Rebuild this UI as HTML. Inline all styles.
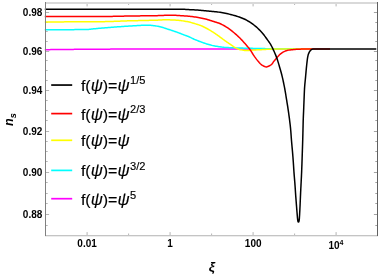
<!DOCTYPE html>
<html><head><meta charset="utf-8"><title>plot</title>
<style>
html,body{margin:0;padding:0;background:#fff;}
body{width:382px;height:275px;overflow:hidden;font-family:"Liberation Sans",sans-serif;}
svg{display:block;will-change:transform;}
svg text{font-family:"Liberation Sans",sans-serif;}
</style></head><body>
<svg width="382" height="275" viewBox="0 0 382 275">
<rect width="382" height="275" fill="#fff"/>
<g stroke="#adadad" stroke-width="0.9" fill="none">
<line x1="45.5" y1="225.50" x2="47.70" y2="225.50"/>
<line x1="377.5" y1="225.50" x2="375.30" y2="225.50" stroke="#999"/>
<line x1="45.5" y1="214.50" x2="49.10" y2="214.50"/>
<line x1="377.5" y1="214.50" x2="373.90" y2="214.50" stroke="#999"/>
<line x1="45.5" y1="203.50" x2="47.70" y2="203.50"/>
<line x1="377.5" y1="203.50" x2="375.30" y2="203.50" stroke="#999"/>
<line x1="45.5" y1="193.50" x2="47.70" y2="193.50"/>
<line x1="377.5" y1="193.50" x2="375.30" y2="193.50" stroke="#999"/>
<line x1="45.5" y1="182.50" x2="47.70" y2="182.50"/>
<line x1="377.5" y1="182.50" x2="375.30" y2="182.50" stroke="#999"/>
<line x1="45.5" y1="172.50" x2="49.10" y2="172.50"/>
<line x1="377.5" y1="172.50" x2="373.90" y2="172.50" stroke="#999"/>
<line x1="45.5" y1="161.50" x2="47.70" y2="161.50"/>
<line x1="377.5" y1="161.50" x2="375.30" y2="161.50" stroke="#999"/>
<line x1="45.5" y1="151.50" x2="47.70" y2="151.50"/>
<line x1="377.5" y1="151.50" x2="375.30" y2="151.50" stroke="#999"/>
<line x1="45.5" y1="141.50" x2="47.70" y2="141.50"/>
<line x1="377.5" y1="141.50" x2="375.30" y2="141.50" stroke="#999"/>
<line x1="45.5" y1="131.50" x2="49.10" y2="131.50"/>
<line x1="377.5" y1="131.50" x2="373.90" y2="131.50" stroke="#999"/>
<line x1="45.5" y1="120.50" x2="47.70" y2="120.50"/>
<line x1="377.5" y1="120.50" x2="375.30" y2="120.50" stroke="#999"/>
<line x1="45.5" y1="110.50" x2="47.70" y2="110.50"/>
<line x1="377.5" y1="110.50" x2="375.30" y2="110.50" stroke="#999"/>
<line x1="45.5" y1="100.50" x2="47.70" y2="100.50"/>
<line x1="377.5" y1="100.50" x2="375.30" y2="100.50" stroke="#999"/>
<line x1="45.5" y1="90.50" x2="49.10" y2="90.50"/>
<line x1="377.5" y1="90.50" x2="373.90" y2="90.50" stroke="#999"/>
<line x1="45.5" y1="80.50" x2="47.70" y2="80.50"/>
<line x1="377.5" y1="80.50" x2="375.30" y2="80.50" stroke="#999"/>
<line x1="45.5" y1="70.50" x2="47.70" y2="70.50"/>
<line x1="377.5" y1="70.50" x2="375.30" y2="70.50" stroke="#999"/>
<line x1="45.5" y1="60.50" x2="47.70" y2="60.50"/>
<line x1="377.5" y1="60.50" x2="375.30" y2="60.50" stroke="#999"/>
<line x1="45.5" y1="51.50" x2="49.10" y2="51.50"/>
<line x1="377.5" y1="51.50" x2="373.90" y2="51.50" stroke="#999"/>
<line x1="45.5" y1="41.50" x2="47.70" y2="41.50"/>
<line x1="377.5" y1="41.50" x2="375.30" y2="41.50" stroke="#999"/>
<line x1="45.5" y1="31.50" x2="47.70" y2="31.50"/>
<line x1="377.5" y1="31.50" x2="375.30" y2="31.50" stroke="#999"/>
<line x1="45.5" y1="22.50" x2="47.70" y2="22.50"/>
<line x1="377.5" y1="22.50" x2="375.30" y2="22.50" stroke="#999"/>
<line x1="45.5" y1="12.50" x2="49.10" y2="12.50"/>
<line x1="377.5" y1="12.50" x2="373.90" y2="12.50" stroke="#999"/>
<line x1="87.10" y1="235.5" x2="87.10" y2="232.10"/>
<line x1="87.10" y1="3" x2="87.10" y2="6.40"/>
<line x1="128.60" y1="235.5" x2="128.60" y2="233.50"/>
<line x1="128.60" y1="3" x2="128.60" y2="5.00"/>
<line x1="170.10" y1="235.5" x2="170.10" y2="232.10"/>
<line x1="170.10" y1="3" x2="170.10" y2="6.40"/>
<line x1="211.60" y1="235.5" x2="211.60" y2="233.50"/>
<line x1="211.60" y1="3" x2="211.60" y2="5.00"/>
<line x1="253.10" y1="235.5" x2="253.10" y2="232.10"/>
<line x1="253.10" y1="3" x2="253.10" y2="6.40"/>
<line x1="294.60" y1="235.5" x2="294.60" y2="233.50"/>
<line x1="294.60" y1="3" x2="294.60" y2="5.00"/>
<line x1="336.10" y1="235.5" x2="336.10" y2="232.10"/>
<line x1="336.10" y1="3" x2="336.10" y2="6.40"/>
</g>
<g clip-path="none">
<path d="M44.80,49.70 L45.78,49.69 L46.77,49.67 L47.75,49.66 L48.74,49.64 L49.72,49.63 L50.71,49.61 L51.69,49.60 L52.68,49.59 L53.66,49.57 L54.65,49.56 L55.63,49.55 L56.62,49.54 L57.60,49.53 L58.59,49.51 L59.57,49.50 L60.55,49.49 L61.54,49.48 L62.52,49.48 L63.51,49.47 L64.49,49.46 L65.48,49.45 L66.46,49.44 L67.45,49.43 L68.43,49.42 L69.42,49.41 L70.40,49.41 L71.39,49.40 L72.37,49.39 L73.36,49.38 L74.34,49.37 L75.33,49.37 L76.31,49.36 L77.29,49.35 L78.28,49.35 L79.26,49.34 L80.25,49.33 L81.23,49.32 L82.22,49.32 L83.20,49.31 L84.19,49.30 L85.17,49.30 L86.16,49.29 L87.14,49.28 L88.13,49.28 L89.11,49.27 L90.10,49.26 L91.08,49.26 L92.07,49.25 L93.05,49.24 L94.04,49.24 L95.02,49.23 L96.00,49.23 L96.99,49.22 L97.97,49.21 L98.96,49.21 L99.94,49.20 L100.93,49.19 L101.91,49.19 L102.90,49.18 L103.88,49.17 L104.87,49.17 L105.85,49.16 L106.84,49.15 L107.82,49.15 L108.81,49.14 L109.79,49.13 L110.78,49.12 L111.76,49.12 L112.75,49.11 L113.73,49.10 L114.71,49.10 L115.70,49.09 L116.68,49.08 L117.67,49.08 L118.65,49.07 L119.64,49.06 L120.62,49.05 L121.61,49.05 L122.59,49.04 L123.58,49.04 L124.56,49.03 L125.55,49.02 L126.53,49.02 L127.52,49.01 L128.50,49.01 L129.49,49.00 L130.47,49.00 L131.46,48.99 L132.44,48.99 L133.42,48.98 L134.41,48.98 L135.39,48.97 L136.38,48.97 L137.36,48.97 L138.35,48.96 L139.33,48.96 L140.32,48.96 L141.30,48.95 L142.29,48.95 L143.27,48.95 L144.26,48.95 L145.24,48.95 L146.23,48.95 L147.21,48.95 L148.20,48.95 L149.18,48.94 L150.17,48.94 L151.15,48.94 L152.13,48.94 L153.12,48.94 L154.10,48.94 L155.09,48.94 L156.07,48.94 L157.06,48.94 L158.04,48.94 L159.03,48.93 L160.01,48.93 L161.00,48.93 L161.98,48.93 L162.97,48.93 L163.95,48.93 L164.94,48.93 L165.92,48.93 L166.91,48.93 L167.89,48.93 L168.88,48.93 L169.86,48.92 L170.84,48.92 L171.83,48.92 L172.81,48.92 L173.80,48.92 L174.78,48.92 L175.77,48.92 L176.75,48.92 L177.74,48.92 L178.72,48.92 L179.71,48.92 L180.69,48.92 L181.68,48.92 L182.66,48.92 L183.65,48.91 L184.63,48.91 L185.62,48.91 L186.60,48.91 L187.59,48.91 L188.57,48.91 L189.56,48.91 L190.54,48.91 L191.52,48.91 L192.51,48.91 L193.49,48.91 L194.48,48.91 L195.46,48.91 L196.45,48.91 L197.43,48.91 L198.42,48.91 L199.40,48.91 L200.39,48.91 L201.37,48.91 L202.36,48.91 L203.34,48.90 L204.33,48.90 L205.31,48.90 L206.30,48.90 L207.28,48.90 L208.27,48.90 L209.25,48.90 L210.24,48.90 L211.22,48.90 L212.20,48.90 L213.19,48.90 L214.17,48.90 L215.16,48.90 L216.14,48.90 L217.13,48.90 L218.11,48.90 L219.10,48.90 L220.08,48.90 L221.07,48.90 L222.05,48.90 L223.04,48.90 L224.02,48.90 L225.01,48.90 L225.99,48.90 L226.98,48.90 L227.96,48.90 L228.95,48.90 L229.93,48.90 L230.91,48.90 L231.90,48.90 L232.88,48.90 L233.87,48.90 L234.85,48.90 L235.84,48.90 L236.82,48.90 L237.81,48.90 L238.79,48.90 L239.78,48.90 L240.76,48.90 L241.75,48.90 L242.73,48.90 L243.72,48.90 L244.70,48.90 L245.69,48.90 L246.67,48.90 L247.66,48.90 L248.64,48.90 L249.63,48.90 L250.61,48.90 L251.59,48.90 L252.58,48.90 L253.56,48.90 L254.55,48.90 L255.53,48.90 L256.52,48.90 L257.50,48.90 L258.49,48.90 L259.47,48.90 L260.46,48.90 L261.44,48.90 L262.43,48.90 L263.41,48.90 L264.40,48.90 L265.38,48.90 L266.37,48.90 L267.35,48.90 L268.34,48.90 L269.32,48.90 L270.30,48.90 L271.29,48.90 L272.27,48.90 L273.26,48.90 L274.24,48.90 L275.23,48.90 L276.21,48.90 L277.20,48.90 L278.18,48.90 L279.17,48.90 L280.15,48.90 L281.14,48.90 L282.12,48.90 L283.11,48.90 L284.09,48.90 L285.08,48.90 L286.06,48.90 L287.05,48.90 L288.03,48.90 L289.02,48.90 L290.00,48.90" fill="none" stroke="#ff00ff" stroke-width="1.5" stroke-linejoin="round"/>
<path d="M44.80,29.70 L45.84,29.70 L46.88,29.70 L47.92,29.70 L48.96,29.70 L50.00,29.70 L51.04,29.70 L52.08,29.70 L53.12,29.69 L54.16,29.69 L55.20,29.69 L56.24,29.69 L57.28,29.69 L58.32,29.68 L59.36,29.68 L60.40,29.68 L61.44,29.68 L62.48,29.67 L63.52,29.67 L64.56,29.67 L65.60,29.66 L66.64,29.66 L67.68,29.66 L68.72,29.65 L69.76,29.65 L70.80,29.65 L71.84,29.64 L72.88,29.64 L73.92,29.63 L74.96,29.62 L76.00,29.61 L77.04,29.61 L78.08,29.60 L79.12,29.58 L80.16,29.57 L81.20,29.56 L82.24,29.55 L83.28,29.53 L84.32,29.51 L85.36,29.49 L86.40,29.46 L87.44,29.42 L88.48,29.38 L89.51,29.30 L90.55,29.21 L91.58,29.10 L92.62,28.98 L93.65,28.87 L94.69,28.76 L95.72,28.66 L96.76,28.56 L97.79,28.46 L98.83,28.36 L99.86,28.27 L100.90,28.17 L101.94,28.08 L102.97,28.00 L104.01,27.91 L105.04,27.82 L106.08,27.74 L107.12,27.65 L108.15,27.57 L109.19,27.49 L110.23,27.41 L111.27,27.33 L112.30,27.25 L113.34,27.17 L114.38,27.10 L115.41,27.02 L116.45,26.94 L117.49,26.87 L118.53,26.79 L119.56,26.72 L120.60,26.65 L121.64,26.58 L122.68,26.50 L123.71,26.43 L124.75,26.36 L125.79,26.29 L126.83,26.23 L127.86,26.16 L128.90,26.09 L129.94,26.02 L130.98,25.96 L132.02,25.89 L133.05,25.83 L134.09,25.76 L135.13,25.70 L136.17,25.64 L137.21,25.57 L138.24,25.51 L139.28,25.44 L140.32,25.38 L141.36,25.33 L142.40,25.30 L143.44,25.27 L144.48,25.25 L145.52,25.23 L146.56,25.21 L147.60,25.20 L148.64,25.20 L149.68,25.23 L150.71,25.30 L151.75,25.40 L152.79,25.53 L153.82,25.67 L154.85,25.81 L155.87,25.96 L156.90,26.13 L157.92,26.33 L158.94,26.55 L159.96,26.78 L160.97,27.02 L161.97,27.28 L162.97,27.56 L163.97,27.87 L164.96,28.19 L165.95,28.52 L166.93,28.85 L167.92,29.17 L168.91,29.49 L169.90,29.82 L170.89,30.15 L171.87,30.48 L172.86,30.81 L173.84,31.15 L174.83,31.48 L175.81,31.82 L176.80,32.15 L177.78,32.50 L178.76,32.84 L179.73,33.20 L180.71,33.57 L181.67,33.96 L182.63,34.35 L183.60,34.74 L184.57,35.11 L185.55,35.47 L186.53,35.82 L187.51,36.17 L188.47,36.55 L189.43,36.96 L190.37,37.39 L191.31,37.84 L192.25,38.30 L193.18,38.76 L194.12,39.20 L195.08,39.62 L196.03,40.02 L196.99,40.42 L197.96,40.81 L198.93,41.19 L199.90,41.56 L200.88,41.92 L201.85,42.27 L202.83,42.62 L203.82,42.96 L204.81,43.29 L205.80,43.61 L206.79,43.92 L207.78,44.21 L208.78,44.51 L209.78,44.81 L210.78,45.09 L211.79,45.36 L212.80,45.61 L213.81,45.82 L214.83,46.01 L215.86,46.19 L216.88,46.35 L217.92,46.51 L218.95,46.65 L219.98,46.80 L221.01,46.94 L222.04,47.09 L223.07,47.21 L224.11,47.31 L225.14,47.38 L226.18,47.45 L227.21,47.52 L228.25,47.57 L229.29,47.63 L230.33,47.68 L231.37,47.72 L232.41,47.76 L233.45,47.81 L234.49,47.84 L235.53,47.88 L236.57,47.92 L237.61,47.96 L238.65,47.99 L239.69,48.02 L240.73,48.06 L241.77,48.09 L242.81,48.12 L243.85,48.15 L244.89,48.17 L245.93,48.20 L246.97,48.23 L248.01,48.25 L249.05,48.28 L250.08,48.30 L251.12,48.33 L252.16,48.35 L253.20,48.38 L254.24,48.40 L255.28,48.43 L256.32,48.45 L257.36,48.47 L258.40,48.50 L259.44,48.52 L260.48,48.54 L261.52,48.56 L262.56,48.58 L263.60,48.60 L264.64,48.62 L265.68,48.64 L266.72,48.66 L267.76,48.67 L268.80,48.69 L269.84,48.70 L270.88,48.71 L271.92,48.72 L272.96,48.73 L274.00,48.74 L275.04,48.75 L276.08,48.76 L277.12,48.77 L278.16,48.77 L279.20,48.78 L280.24,48.79 L281.28,48.80 L282.32,48.80 L283.36,48.81 L284.40,48.82 L285.44,48.82 L286.48,48.83 L287.52,48.84 L288.56,48.84 L289.60,48.85 L290.64,48.85 L291.68,48.86 L292.72,48.87 L293.76,48.87 L294.80,48.88 L295.84,48.88 L296.88,48.89 L297.92,48.89 L298.96,48.90 L300.00,48.90" fill="none" stroke="#00ffff" stroke-width="1.5" stroke-linejoin="round"/>
<path d="M44.80,21.90 L45.90,21.90 L47.01,21.90 L48.11,21.90 L49.22,21.90 L50.32,21.90 L51.43,21.90 L52.53,21.90 L53.63,21.89 L54.74,21.89 L55.84,21.89 L56.95,21.89 L58.05,21.89 L59.16,21.89 L60.26,21.88 L61.36,21.88 L62.47,21.88 L63.57,21.88 L64.68,21.87 L65.78,21.87 L66.89,21.87 L67.99,21.86 L69.09,21.86 L70.20,21.86 L71.30,21.85 L72.41,21.85 L73.51,21.84 L74.61,21.84 L75.72,21.84 L76.82,21.83 L77.93,21.83 L79.03,21.82 L80.13,21.82 L81.24,21.81 L82.34,21.81 L83.45,21.80 L84.55,21.79 L85.65,21.79 L86.76,21.78 L87.86,21.78 L88.97,21.77 L90.07,21.76 L91.17,21.76 L92.28,21.75 L93.38,21.74 L94.49,21.74 L95.59,21.73 L96.69,21.72 L97.80,21.72 L98.90,21.71 L100.00,21.70 L101.11,21.69 L102.21,21.68 L103.32,21.66 L104.42,21.64 L105.52,21.62 L106.63,21.59 L107.73,21.56 L108.83,21.53 L109.94,21.50 L111.04,21.46 L112.14,21.42 L113.25,21.38 L114.35,21.34 L115.46,21.30 L116.56,21.26 L117.66,21.22 L118.77,21.18 L119.87,21.14 L120.97,21.10 L122.08,21.06 L123.18,21.02 L124.28,20.98 L125.39,20.94 L126.49,20.90 L127.59,20.87 L128.70,20.84 L129.80,20.81 L130.91,20.78 L132.01,20.75 L133.11,20.72 L134.22,20.70 L135.32,20.67 L136.42,20.65 L137.53,20.63 L138.63,20.60 L139.74,20.58 L140.84,20.56 L141.94,20.54 L143.05,20.51 L144.15,20.49 L145.26,20.47 L146.36,20.44 L147.46,20.42 L148.57,20.40 L149.67,20.37 L150.78,20.34 L151.88,20.32 L152.98,20.29 L154.09,20.26 L155.19,20.22 L156.29,20.19 L157.40,20.15 L158.50,20.09 L159.60,20.04 L160.71,19.98 L161.81,19.92 L162.91,19.87 L164.02,19.83 L165.12,19.81 L166.22,19.80 L167.33,19.81 L168.43,19.83 L169.54,19.86 L170.64,19.89 L171.74,19.94 L172.85,19.99 L173.95,20.04 L175.05,20.10 L176.15,20.16 L177.25,20.23 L178.35,20.33 L179.45,20.44 L180.55,20.58 L181.65,20.72 L182.74,20.88 L183.84,21.05 L184.93,21.22 L186.01,21.40 L187.09,21.60 L188.17,21.83 L189.25,22.08 L190.32,22.35 L191.39,22.63 L192.46,22.93 L193.52,23.23 L194.58,23.54 L195.64,23.85 L196.70,24.17 L197.76,24.50 L198.81,24.85 L199.85,25.22 L200.88,25.61 L201.89,26.03 L202.90,26.48 L203.89,26.96 L204.88,27.46 L205.86,27.97 L206.84,28.50 L207.81,29.02 L208.77,29.56 L209.72,30.12 L210.67,30.69 L211.61,31.27 L212.55,31.86 L213.48,32.45 L214.40,33.06 L215.31,33.67 L216.22,34.30 L217.13,34.93 L218.03,35.58 L218.92,36.22 L219.82,36.87 L220.71,37.52 L221.59,38.19 L222.47,38.86 L223.35,39.52 L224.24,40.17 L225.14,40.81 L226.05,41.44 L226.96,42.06 L227.88,42.68 L228.79,43.30 L229.71,43.91 L230.63,44.52 L231.54,45.15 L232.45,45.80 L233.37,46.43 L234.29,47.03 L235.23,47.60 L236.20,48.10 L237.20,48.58 L238.22,49.03 L239.27,49.41 L240.32,49.67 L241.40,49.89 L242.48,50.10 L243.59,50.27 L244.69,50.41 L245.80,50.49 L246.90,50.50 L248.00,50.46 L249.10,50.40 L250.20,50.31 L251.30,50.21 L252.40,50.12 L253.51,50.03 L254.61,49.97 L255.71,49.91 L256.81,49.85 L257.92,49.79 L259.02,49.74 L260.12,49.69 L261.23,49.63 L262.33,49.58 L263.43,49.53 L264.53,49.47 L265.64,49.41 L266.74,49.34 L267.84,49.28 L268.94,49.21 L270.05,49.16 L271.15,49.12 L272.25,49.10 L273.36,49.08 L274.46,49.06 L275.56,49.04 L276.67,49.03 L277.77,49.01 L278.88,49.00 L279.98,48.99 L281.08,48.98 L282.19,48.96 L283.29,48.95 L284.40,48.94 L285.50,48.94 L286.60,48.93 L287.71,48.92 L288.81,48.92 L289.92,48.91 L291.02,48.91 L292.13,48.90 L293.23,48.90 L294.33,48.90 L295.44,48.90 L296.54,48.90 L297.65,48.90 L298.75,48.90 L299.85,48.90 L300.96,48.90 L302.06,48.90 L303.17,48.90 L304.27,48.90 L305.38,48.90 L306.48,48.90 L307.58,48.90 L308.69,48.90 L309.79,48.90 L310.90,48.90 L312.00,48.90" fill="none" stroke="#ffff00" stroke-width="1.5" stroke-linejoin="round"/>
<path d="M44.80,16.55 L46.05,16.55 L47.30,16.55 L48.54,16.55 L49.79,16.55 L51.04,16.55 L52.29,16.55 L53.54,16.55 L54.78,16.55 L56.03,16.55 L57.28,16.55 L58.53,16.55 L59.78,16.55 L61.02,16.55 L62.27,16.55 L63.52,16.55 L64.77,16.55 L66.02,16.55 L67.26,16.55 L68.51,16.55 L69.76,16.55 L71.01,16.55 L72.26,16.55 L73.50,16.55 L74.75,16.55 L76.00,16.55 L77.25,16.55 L78.50,16.55 L79.74,16.55 L80.99,16.55 L82.24,16.55 L83.49,16.55 L84.74,16.55 L85.98,16.55 L87.23,16.55 L88.48,16.55 L89.73,16.55 L90.97,16.55 L92.22,16.55 L93.47,16.55 L94.72,16.55 L95.97,16.55 L97.21,16.55 L98.46,16.55 L99.71,16.55 L100.96,16.55 L102.21,16.54 L103.45,16.54 L104.70,16.52 L105.95,16.51 L107.20,16.49 L108.44,16.47 L109.69,16.45 L110.94,16.42 L112.19,16.40 L113.43,16.37 L114.68,16.34 L115.93,16.31 L117.18,16.28 L118.43,16.25 L119.67,16.22 L120.92,16.19 L122.17,16.16 L123.42,16.13 L124.66,16.10 L125.91,16.07 L127.16,16.05 L128.41,16.03 L129.65,16.01 L130.90,15.99 L132.15,15.97 L133.40,15.95 L134.65,15.94 L135.89,15.92 L137.14,15.91 L138.39,15.89 L139.64,15.88 L140.89,15.87 L142.13,15.85 L143.38,15.84 L144.63,15.83 L145.88,15.81 L147.13,15.80 L148.37,15.78 L149.62,15.76 L150.87,15.75 L152.12,15.73 L153.36,15.71 L154.61,15.69 L155.86,15.66 L157.11,15.63 L158.35,15.59 L159.60,15.55 L160.85,15.49 L162.10,15.44 L163.34,15.38 L164.59,15.33 L165.84,15.28 L167.09,15.24 L168.33,15.21 L169.58,15.20 L170.83,15.20 L172.07,15.22 L173.32,15.26 L174.57,15.30 L175.82,15.36 L177.06,15.43 L178.31,15.50 L179.56,15.58 L180.80,15.66 L182.05,15.74 L183.29,15.82 L184.54,15.90 L185.78,16.00 L187.03,16.10 L188.27,16.21 L189.52,16.33 L190.76,16.46 L192.00,16.60 L193.24,16.74 L194.48,16.90 L195.71,17.06 L196.94,17.24 L198.17,17.44 L199.40,17.66 L200.63,17.91 L201.85,18.17 L203.07,18.45 L204.29,18.73 L205.50,19.02 L206.70,19.34 L207.90,19.68 L209.10,20.04 L210.29,20.41 L211.48,20.79 L212.67,21.17 L213.86,21.56 L215.05,21.93 L216.25,22.30 L217.44,22.67 L218.63,23.07 L219.79,23.51 L220.92,24.00 L222.05,24.55 L223.15,25.13 L224.25,25.75 L225.32,26.40 L226.38,27.05 L227.42,27.73 L228.45,28.44 L229.46,29.17 L230.46,29.92 L231.45,30.69 L232.43,31.46 L233.40,32.25 L234.36,33.04 L235.32,33.85 L236.26,34.67 L237.19,35.50 L238.11,36.35 L239.01,37.21 L239.90,38.08 L240.77,38.97 L241.64,39.87 L242.49,40.78 L243.33,41.71 L244.17,42.64 L245.00,43.57 L245.82,44.51 L246.63,45.46 L247.45,46.40 L248.25,47.36 L249.04,48.33 L249.80,49.32 L250.52,50.34 L251.20,51.38 L251.86,52.44 L252.51,53.51 L253.18,54.56 L253.87,55.60 L254.58,56.63 L255.31,57.64 L256.05,58.65 L256.81,59.64 L257.59,60.61 L258.39,61.58 L259.21,62.55 L260.06,63.46 L260.98,64.28 L261.97,65.03 L263.04,65.72 L264.16,66.27 L265.34,66.69 L266.56,66.90 L267.76,66.59 L268.91,66.04 L270.03,65.46 L271.10,64.77 L272.03,63.97 L272.74,62.97 L273.41,61.89 L274.17,60.91 L274.98,59.95 L275.80,59.01 L276.63,58.07 L277.43,57.11 L278.24,56.14 L279.07,55.21 L279.95,54.34 L280.91,53.56 L281.94,52.84 L283.01,52.19 L284.11,51.60 L285.26,51.06 L286.43,50.65 L287.62,50.36 L288.85,50.13 L290.09,49.93 L291.34,49.77 L292.58,49.64 L293.82,49.53 L295.06,49.42 L296.31,49.33 L297.56,49.25 L298.80,49.19 L300.05,49.15 L301.30,49.12 L302.54,49.08 L303.79,49.06 L305.04,49.03 L306.29,49.01 L307.54,48.99 L308.78,48.98 L310.03,48.96 L311.28,48.95 L312.53,48.95 L313.78,48.94 L315.02,48.94 L316.27,48.93 L317.52,48.93 L318.77,48.92 L320.02,48.92 L321.26,48.91 L322.51,48.91 L323.76,48.91 L325.01,48.90 L326.26,48.90 L327.50,48.90 L328.75,48.90 L330.00,48.90" fill="none" stroke="#ff0000" stroke-width="1.5" stroke-linejoin="round"/>
<path d="M44.80,9.35 L46.12,9.35 L47.44,9.35 L48.76,9.35 L50.08,9.35 L51.39,9.35 L52.71,9.35 L54.03,9.35 L55.35,9.35 L56.67,9.35 L57.99,9.35 L59.31,9.35 L60.63,9.35 L61.95,9.35 L63.26,9.35 L64.58,9.35 L65.90,9.35 L67.22,9.35 L68.54,9.35 L69.86,9.35 L71.18,9.35 L72.50,9.35 L73.82,9.35 L75.13,9.35 L76.45,9.35 L77.77,9.35 L79.09,9.35 L80.41,9.35 L81.73,9.35 L83.05,9.35 L84.37,9.35 L85.69,9.35 L87.00,9.35 L88.32,9.35 L89.64,9.35 L90.96,9.35 L92.28,9.35 L93.60,9.35 L94.92,9.35 L96.24,9.35 L97.55,9.35 L98.87,9.35 L100.19,9.35 L101.51,9.35 L102.83,9.35 L104.15,9.35 L105.47,9.35 L106.79,9.35 L108.11,9.34 L109.42,9.34 L110.74,9.34 L112.06,9.34 L113.38,9.33 L114.70,9.33 L116.02,9.33 L117.34,9.33 L118.66,9.32 L119.98,9.32 L121.29,9.31 L122.61,9.31 L123.93,9.31 L125.25,9.30 L126.57,9.30 L127.89,9.29 L129.21,9.29 L130.53,9.28 L131.85,9.28 L133.16,9.28 L134.48,9.27 L135.80,9.27 L137.12,9.26 L138.44,9.26 L139.76,9.25 L141.08,9.25 L142.40,9.24 L143.72,9.24 L145.03,9.23 L146.35,9.23 L147.67,9.22 L148.99,9.22 L150.31,9.22 L151.63,9.21 L152.95,9.21 L154.27,9.20 L155.59,9.20 L156.90,9.20 L158.22,9.19 L159.54,9.19 L160.86,9.19 L162.18,9.18 L163.50,9.18 L164.82,9.17 L166.14,9.17 L167.46,9.16 L168.78,9.16 L170.09,9.16 L171.41,9.15 L172.73,9.15 L174.05,9.15 L175.37,9.15 L176.69,9.15 L178.01,9.16 L179.32,9.19 L180.64,9.22 L181.96,9.26 L183.28,9.31 L184.60,9.36 L185.92,9.43 L187.23,9.49 L188.55,9.56 L189.87,9.64 L191.19,9.72 L192.50,9.79 L193.82,9.87 L195.14,9.95 L196.45,10.03 L197.77,10.11 L199.08,10.20 L200.40,10.30 L201.71,10.41 L203.03,10.52 L204.34,10.64 L205.65,10.76 L206.97,10.89 L208.28,11.01 L209.59,11.15 L210.91,11.28 L212.22,11.42 L213.53,11.55 L214.84,11.69 L216.15,11.83 L217.47,11.97 L218.77,12.13 L220.08,12.31 L221.38,12.52 L222.68,12.76 L223.97,13.01 L225.27,13.28 L226.56,13.55 L227.84,13.84 L229.13,14.13 L230.41,14.44 L231.69,14.76 L232.97,15.10 L234.24,15.46 L235.50,15.83 L236.76,16.22 L238.02,16.63 L239.26,17.06 L240.51,17.50 L241.75,17.97 L242.98,18.46 L244.19,18.98 L245.37,19.53 L246.54,20.14 L247.68,20.79 L248.82,21.49 L249.93,22.21 L251.02,22.94 L252.10,23.69 L253.17,24.47 L254.23,25.27 L255.27,26.09 L256.28,26.94 L257.27,27.81 L258.23,28.70 L259.16,29.62 L260.08,30.57 L260.98,31.55 L261.86,32.54 L262.72,33.54 L263.56,34.56 L264.39,35.58 L265.18,36.63 L265.96,37.70 L266.72,38.78 L267.48,39.86 L268.24,40.94 L269.02,42.01 L269.78,43.09 L270.48,44.20 L271.13,45.34 L271.75,46.51 L272.34,47.69 L272.92,48.88 L273.48,50.07 L274.03,51.27 L274.57,52.47 L275.09,53.69 L275.60,54.91 L276.09,56.13 L276.55,57.37 L276.99,58.61 L277.41,59.85 L277.82,61.11 L278.21,62.37 L278.59,63.64 L278.97,64.90 L279.35,66.16 L279.72,67.43 L280.09,68.70 L280.45,69.96 L280.81,71.24 L281.16,72.51 L281.49,73.78 L281.82,75.06 L282.14,76.34 L282.44,77.62 L282.74,78.91 L283.02,80.19 L283.30,81.48 L283.58,82.77 L283.84,84.07 L284.10,85.36 L284.36,86.65 L284.60,87.95 L284.85,89.25 L285.08,90.54 L285.30,91.84 L285.52,93.15 L285.73,94.45 L285.94,95.75 L286.15,97.05 L286.36,98.35 L286.57,99.66 L286.79,100.96 L287.00,102.26 L287.21,103.56 L287.42,104.86 L287.63,106.17 L287.83,107.47 L288.03,108.77 L288.22,110.08 L288.41,111.38 L288.59,112.69 L288.78,113.99 L288.96,115.30 L289.14,116.61 L289.31,117.92 L289.48,119.22 L289.64,120.53 L289.80,121.84 L289.96,123.15 L290.12,124.46 L290.27,125.77 L290.41,127.08 L290.55,128.39 L290.67,129.71 L290.79,131.02 L290.89,132.33 L290.99,133.65 L291.09,134.96 L291.18,136.28 L291.27,137.60 L291.37,138.91 L291.47,140.23 L291.58,141.54 L291.69,142.86 L291.81,144.17 L291.93,145.48 L292.05,146.80 L292.17,148.11 L292.29,149.42 L292.41,150.74 L292.52,152.05 L292.63,153.36 L292.74,154.68 L292.84,155.99 L292.95,157.31 L293.05,158.62 L293.15,159.94 L293.25,161.25 L293.34,162.57 L293.43,163.89 L293.52,165.20 L293.60,166.52 L293.68,167.83 L293.77,169.15 L293.85,170.47 L293.94,171.78 L294.04,173.10 L294.14,174.41 L294.24,175.73 L294.35,177.04 L294.46,178.36 L294.57,179.67 L294.68,180.98 L294.79,182.30 L294.90,183.61 L294.99,184.93 L295.09,186.24 L295.18,187.56 L295.26,188.88 L295.35,190.19 L295.43,191.51 L295.52,192.82 L295.61,194.14 L295.70,195.46 L295.80,196.77 L295.90,198.09 L296.00,199.40 L296.10,200.72 L296.20,202.03 L296.30,203.35 L296.40,204.66 L296.51,205.98 L296.61,207.29 L296.71,208.61 L296.82,209.92 L296.92,211.24 L297.03,212.55 L297.14,213.86 L297.25,215.18 L297.36,216.49 L297.48,217.81 L297.61,219.12 L297.77,220.44 L298.06,221.76 L298.72,222.06 L299.09,220.70 L299.26,219.37 L299.38,218.06 L299.47,216.74 L299.55,215.43 L299.63,214.11 L299.70,212.79 L299.77,211.48 L299.84,210.16 L299.90,208.84 L299.96,207.52 L300.03,206.21 L300.09,204.89 L300.15,203.57 L300.20,202.25 L300.26,200.94 L300.32,199.62 L300.37,198.30 L300.43,196.98 L300.48,195.66 L300.54,194.35 L300.60,193.03 L300.66,191.71 L300.73,190.39 L300.79,189.08 L300.86,187.76 L300.93,186.44 L300.99,185.13 L301.06,183.81 L301.13,182.49 L301.19,181.17 L301.26,179.86 L301.32,178.54 L301.39,177.22 L301.45,175.91 L301.51,174.59 L301.57,173.27 L301.63,171.95 L301.68,170.63 L301.73,169.32 L301.78,168.00 L301.83,166.68 L301.88,165.36 L301.93,164.05 L301.97,162.73 L302.02,161.41 L302.07,160.09 L302.11,158.77 L302.15,157.45 L302.20,156.14 L302.24,154.82 L302.28,153.50 L302.33,152.18 L302.37,150.86 L302.41,149.55 L302.46,148.23 L302.50,146.91 L302.55,145.59 L302.59,144.27 L302.63,142.95 L302.67,141.64 L302.71,140.32 L302.74,139.00 L302.78,137.68 L302.81,136.36 L302.85,135.04 L302.88,133.73 L302.91,132.41 L302.95,131.09 L302.98,129.77 L303.01,128.45 L303.05,127.13 L303.08,125.82 L303.11,124.50 L303.14,123.18 L303.17,121.86 L303.21,120.54 L303.26,119.22 L303.31,117.91 L303.36,116.59 L303.41,115.27 L303.47,113.95 L303.53,112.63 L303.59,111.32 L303.64,110.00 L303.70,108.68 L303.75,107.36 L303.80,106.05 L303.85,104.73 L303.90,103.41 L303.96,102.09 L304.01,100.77 L304.06,99.46 L304.11,98.14 L304.17,96.82 L304.22,95.50 L304.27,94.18 L304.32,92.87 L304.38,91.55 L304.44,90.23 L304.50,88.91 L304.59,87.60 L304.69,86.28 L304.79,84.97 L304.91,83.66 L305.04,82.34 L305.17,81.03 L305.30,79.72 L305.43,78.40 L305.55,77.09 L305.67,75.78 L305.79,74.46 L305.91,73.15 L306.02,71.84 L306.14,70.52 L306.26,69.21 L306.39,67.89 L306.52,66.58 L306.66,65.27 L306.80,63.96 L306.95,62.65 L307.10,61.33 L307.26,60.01 L307.44,58.70 L307.65,57.40 L307.89,56.11 L308.19,54.84 L308.63,53.58 L309.16,52.38 L309.83,51.23 L310.67,50.23 L311.74,49.40 L312.98,49.06 L314.31,48.94 L315.62,48.92 L316.94,48.91 L318.27,48.90 L319.59,48.90 L320.91,48.90 L322.23,48.90 L323.54,48.90 L324.86,48.90 L326.18,48.90 L327.50,48.90 L328.82,48.90 L330.14,48.90 L331.46,48.90 L332.78,48.90 L334.10,48.90 L335.41,48.90 L336.73,48.90 L338.05,48.90 L339.37,48.90 L340.69,48.90 L342.01,48.90 L343.33,48.90 L344.65,48.90 L345.97,48.90 L347.28,48.90 L348.60,48.90 L349.92,48.90 L351.24,48.90 L352.56,48.90 L353.88,48.90 L355.20,48.90 L356.52,48.90 L357.84,48.90 L359.15,48.90 L360.47,48.90 L361.79,48.90 L363.11,48.90 L364.43,48.90 L365.75,48.90 L367.07,48.90 L368.39,48.90 L369.71,48.90 L371.02,48.90 L372.34,48.90 L373.66,48.90 L374.98,48.90 L376.30,48.90" fill="none" stroke="#000000" stroke-width="1.5" stroke-linejoin="round"/>
</g>
<!-- frame -->
<rect x="45" y="2" width="333" height="2" fill="#d9d9d9"/>
<rect x="45" y="235" width="333" height="1" fill="#c4c4c4"/>
<rect x="45" y="236" width="333" height="1" fill="#ececec"/>
<rect x="45" y="2" width="1" height="234" fill="#808080"/>
<rect x="377" y="2" width="1" height="234" fill="#606060"/>
<g font-size="10" font-weight="bold" fill="#000">
<text x="42.3" y="16" text-anchor="end">0.98</text>
<text x="42.3" y="55" text-anchor="end">0.96</text>
<text x="42.3" y="94" text-anchor="end">0.94</text>
<text x="42.3" y="135" text-anchor="end">0.92</text>
<text x="42.3" y="176" text-anchor="end">0.90</text>
<text x="42.3" y="218" text-anchor="end">0.88</text>
<text x="87.1" y="246.5" text-anchor="middle">0.01</text>
<text x="170.0" y="246.5" text-anchor="middle">1</text>
<text x="253.2" y="246.5" text-anchor="middle">100</text>
<text x="328.4" y="248.55">10<tspan dy="-3.7" font-size="7">4</tspan></text>
</g>
<line x1="51.2" y1="85.05" x2="72.2" y2="85.05" stroke="#000000" stroke-width="1.7"/>
<text transform="translate(80.9,90.8) scale(1.04,1)" font-size="15.4" stroke="#000" stroke-width="0.15">f(<tspan font-style="italic" font-size="16">ψ</tspan>)=<tspan font-style="italic" font-size="16">ψ</tspan><tspan dx="0.4" dy="-6.5" font-size="10.7">1/5</tspan></text>
<line x1="51.2" y1="113.6" x2="72.2" y2="113.6" stroke="#ff0000" stroke-width="1.7"/>
<text transform="translate(80.9,119.5) scale(1.04,1)" font-size="15.4" stroke="#000" stroke-width="0.15">f(<tspan font-style="italic" font-size="16">ψ</tspan>)=<tspan font-style="italic" font-size="16">ψ</tspan><tspan dx="0.4" dy="-6.5" font-size="10.7">2/3</tspan></text>
<line x1="51.2" y1="140.3" x2="72.2" y2="140.3" stroke="#ffff00" stroke-width="1.7"/>
<text transform="translate(80.9,146.0) scale(1.04,1)" font-size="15.4" stroke="#000" stroke-width="0.15">f(<tspan font-style="italic" font-size="16">ψ</tspan>)=<tspan font-style="italic" font-size="16">ψ</tspan></text>
<line x1="51.2" y1="170.4" x2="72.2" y2="170.4" stroke="#00ffff" stroke-width="1.7"/>
<text transform="translate(80.9,176.2) scale(1.04,1)" font-size="15.4" stroke="#000" stroke-width="0.15">f(<tspan font-style="italic" font-size="16">ψ</tspan>)=<tspan font-style="italic" font-size="16">ψ</tspan><tspan dx="0.4" dy="-6.5" font-size="10.7">3/2</tspan></text>
<line x1="51.2" y1="198.7" x2="72.2" y2="198.7" stroke="#ff00ff" stroke-width="1.7"/>
<text transform="translate(80.9,205.0) scale(1.04,1)" font-size="15.4" stroke="#000" stroke-width="0.15">f(<tspan font-style="italic" font-size="16">ψ</tspan>)=<tspan font-style="italic" font-size="16">ψ</tspan><tspan dx="0.4" dy="-6.5" font-size="10.7">5</tspan></text>
<text transform="translate(13.1,126.0) rotate(-90)" font-size="12.5" font-weight="bold" font-style="italic">n<tspan dy="2.6" font-size="9.2">s</tspan></text>
<text x="208.8" y="270.7" font-size="13.5" font-weight="bold" font-style="italic">ξ</text>
</svg>
</body></html>
